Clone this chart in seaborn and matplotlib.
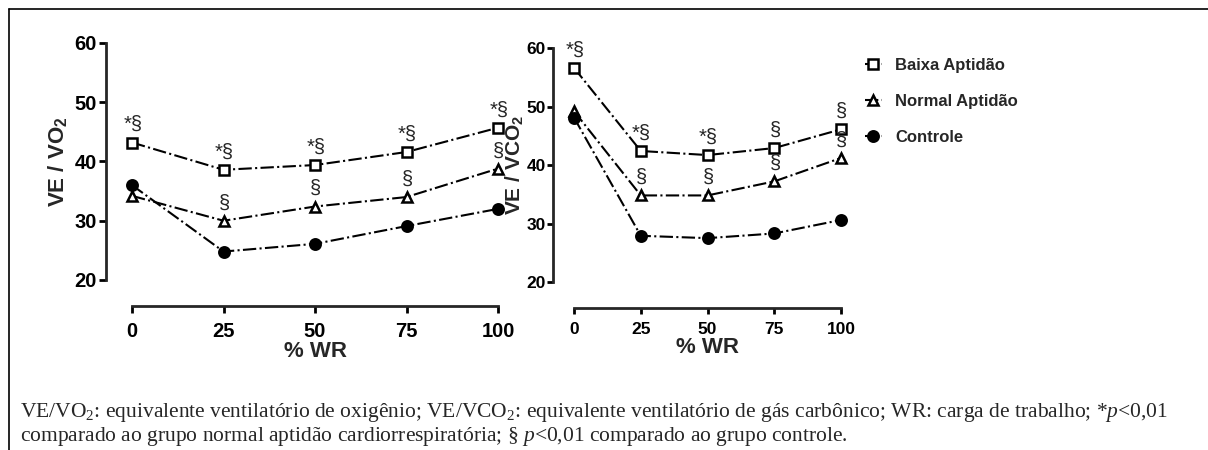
import matplotlib
matplotlib.use('Agg')
import matplotlib.pyplot as plt
import seaborn as sns
import pandas as pd
from matplotlib.lines import Line2D

sns.set_style('ticks')
plt.rcParams['font.family'] = ['Liberation Sans', 'DejaVu Sans']
plt.rcParams['mathtext.fontset'] = 'custom'
plt.rcParams['mathtext.rm'] = 'Liberation Serif'
plt.rcParams['mathtext.it'] = 'Liberation Serif:italic'
plt.rcParams['mathtext.sf'] = 'Liberation Sans:bold'

wr = [0, 25, 50, 75, 100]
grupos = ['Baixa Aptidão', 'Normal Aptidão', 'Controle']

# VE/VO2
vo2_baixa = [43.2, 38.6, 39.4, 41.6, 45.7]
vo2_normal = [34.2, 30.0, 32.4, 34.0, 38.8]
vo2_controle = [36.0, 24.8, 26.1, 29.1, 32.0]
# VE/VCO2
vco2_baixa = [56.6, 42.4, 41.7, 42.9, 46.1]
vco2_normal = [49.2, 34.8, 34.8, 37.2, 41.2]
vco2_controle = [48.1, 27.9, 27.5, 28.3, 30.6]

# significance marks
vo2_sig_baixa = ['*§', '*§', '*§', '*§', '*§']
vo2_sig_normal = ['', '§', '§', '§', '§']
vco2_sig_baixa = ['*§', '*§', '*§', '§', '§']
vco2_sig_normal = ['', '§', '§', '§', '§']

estilos = {'Baixa Aptidão': dict(marker='s', markerfacecolor='white'),
           'Normal Aptidão': dict(marker='^', markerfacecolor='white'),
           'Controle': dict(marker='o', markerfacecolor='black')}

fig = plt.figure(figsize=(12.08, 4.5), dpi=100)
ax1 = fig.add_axes([0.1093, 0.3778, 0.303, 0.5267])
ax2 = fig.add_axes([0.4752, 0.3733, 0.221, 0.52])


def painel(ax, series, sigs, ylabel, leg, tick_fs, offs, tlen, yfs):
    for g, vals in zip(grupos, series):
        df = pd.DataFrame({'WR': wr, 'val': vals})
        sns.lineplot(data=df, x='WR', y='val', ax=ax, color='black',
                     linestyle='-.', linewidth=1.5, markersize=7.5,
                     markeredgewidth=1.8, markeredgecolor='black',
                     clip_on=False, label=g if leg else None,
                     **estilos[g])
    for vals, marks in zip(series[:2], sigs):
        for x, y, m in zip(wr, vals, marks):
            if m:
                ax.annotate(m, (x, y), xytext=(0.5, 6), textcoords='offset points',
                            ha='center', va='bottom', fontsize=14.5)
    ax.set_xlim(0, 100)
    ax.set_ylim(20, 60)
    ax.set_xticks(wr)
    ax.set_yticks([20, 30, 40, 50, 60])
    sns.despine(ax=ax, offset=offs)
    for s in ['left', 'bottom']:
        ax.spines[s].set_linewidth(2)
    ax.tick_params(width=2, length=tlen, labelsize=tick_fs, colors='black')
    ax.tick_params(axis='x', pad=6)
    ax.tick_params(axis='y', pad=1.5)
    for lab in ax.get_xticklabels() + ax.get_yticklabels():
        lab.set_fontweight('bold')
    ax.set_xlabel('% WR', fontsize=16, fontweight='bold', labelpad=0)
    ax.set_ylabel(ylabel, fontsize=yfs, fontweight='bold', labelpad=4)
    if ax.get_legend():
        ax.get_legend().remove()


painel(ax1, [vo2_baixa, vo2_normal, vo2_controle],
       [vo2_sig_baixa, vo2_sig_normal], r'VE / VO$_\mathsf{2}$', False, 14.5,
       {'left': 19, 'bottom': 19}, 5, 16)
painel(ax2, [vco2_baixa, vco2_normal, vco2_controle],
       [vco2_sig_baixa, vco2_sig_normal], r'VE / VCO$_\mathsf{2}$', True, 12.5,
       {'left': 15, 'bottom': 18.5}, 4, 15)
ax2.yaxis.set_label_coords(-0.183, 0.5)

h, l = ax2.get_legend_handles_labels()
fig.legend(h, l, loc='upper left', bbox_to_anchor=(850 / 1208, 1 - 43 / 450),
           frameon=False, handlelength=1.0, handletextpad=0.8, labelspacing=1.25,
           prop={'size': 12, 'weight': 'bold'})

# caption
fig.text(0.0166, 1 - 412 / 450,
         r'VE/VO$_2$: equivalente ventilatório de oxigênio; VE/VCO$_2$: equivalente ventilatório de gás carbônico; WR: carga de trabalho; *$\mathit{p}$<0,01',
         family='Liberation Serif', fontsize=15.5, va='center')
fig.text(0.0166, 1 - 436 / 450,
         r'comparado ao grupo normal aptidão cardiorrespiratória; § $\mathit{p}$<0,01 comparado ao grupo controle.',
         family='Liberation Serif', fontsize=15.5, va='center')

# frame
fig.add_artist(Line2D([9 / 1208, 9 / 1208], [0, 1 - 9 / 450], color='black', lw=1.2))
fig.add_artist(Line2D([9 / 1208, 1], [1 - 9 / 450, 1 - 9 / 450], color='black', lw=1.2))

fig.savefig('out.png', dpi=100)
